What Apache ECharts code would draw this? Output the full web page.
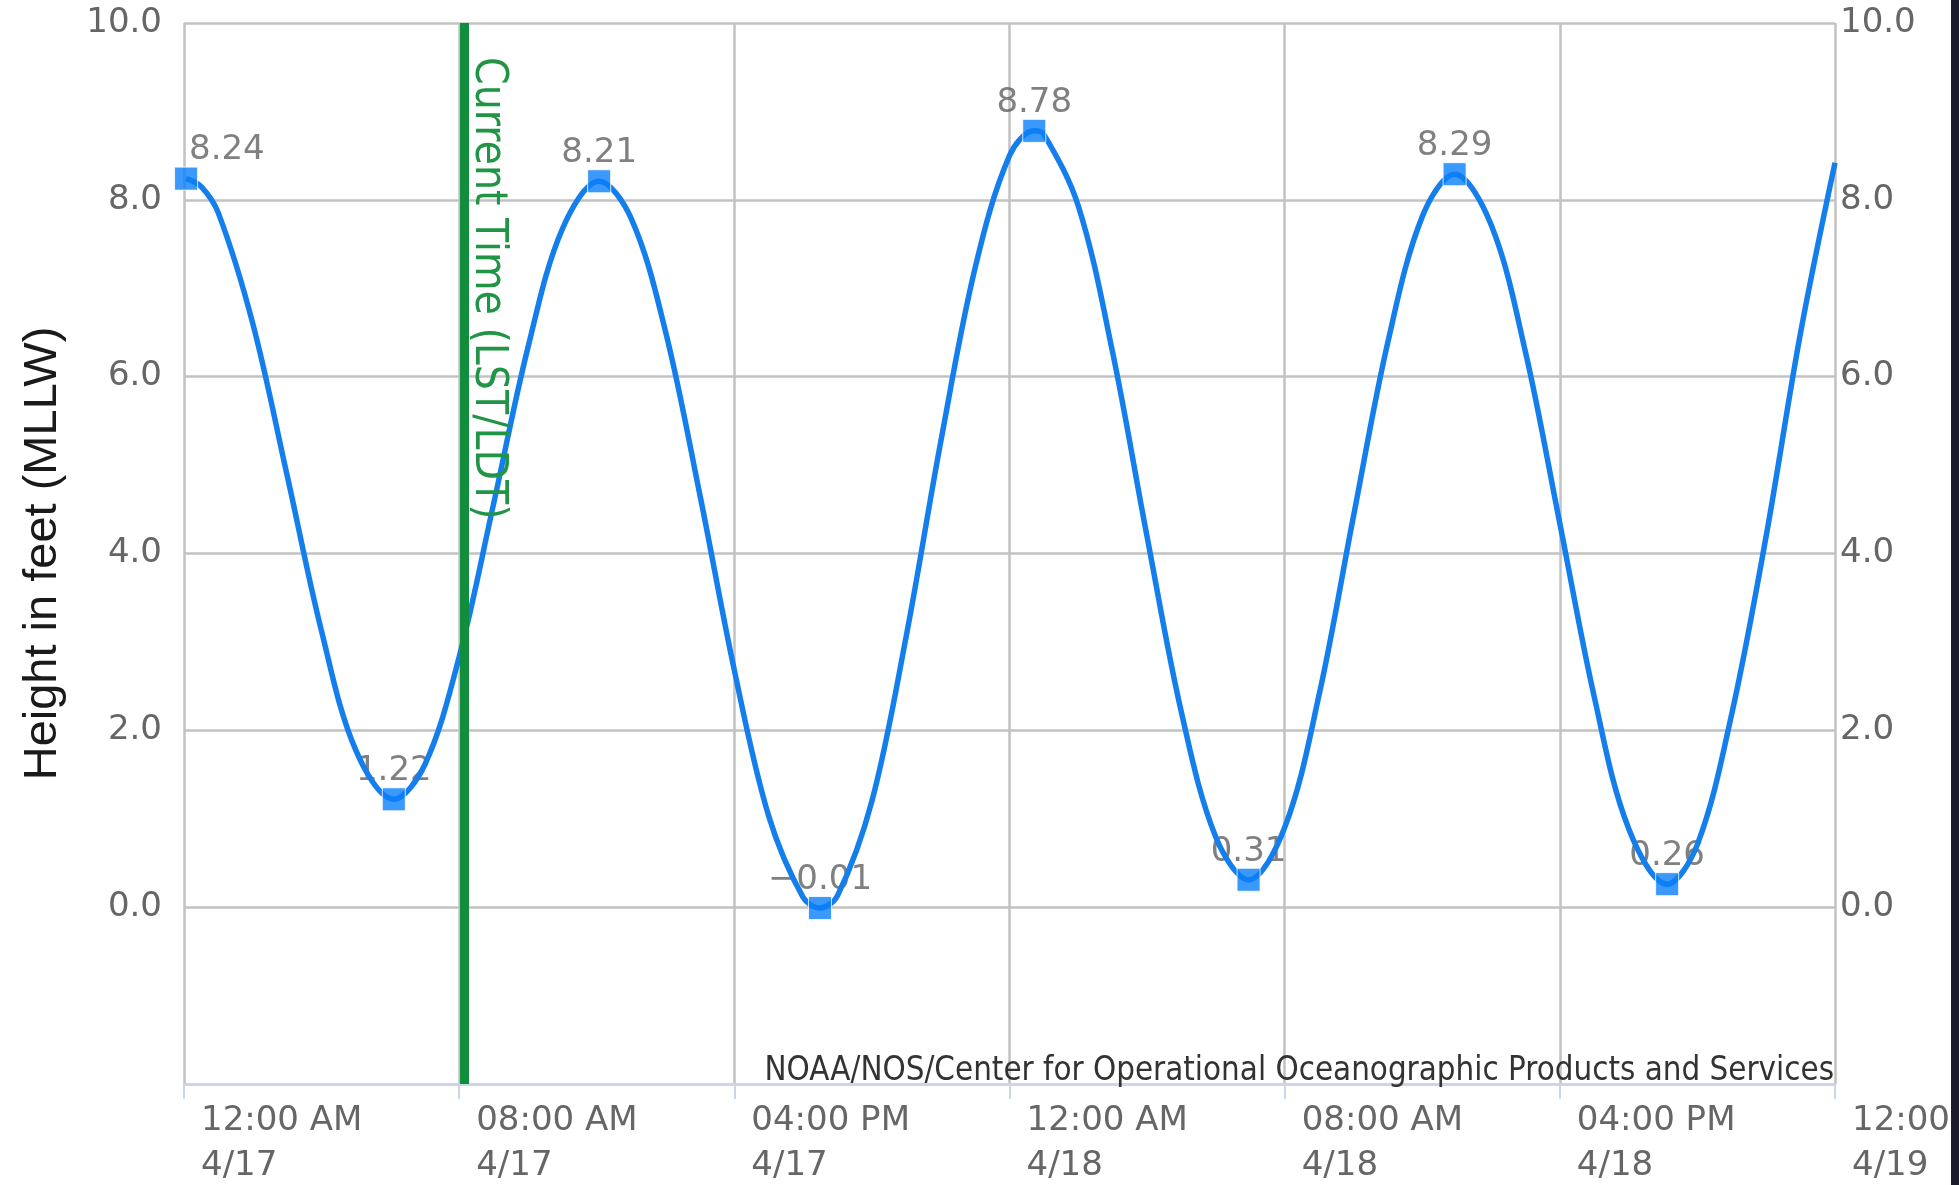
<!DOCTYPE html>
<html>
<head>
<meta charset="utf-8">
<script src="https://cdn.jsdelivr.net/npm/echarts@6/dist/echarts.min.js"></script>
<style>
html,body{margin:0;padding:0;background:#ffffff;}
#chart{width:1959px;height:1185px;}
</style>
</head>
<body>
<div id="chart"></div>
<script>
// Hours since 4/17 12:00 AM, heights in feet (MLLW)
const lineTimes = [0.06, 0.5, 1, 2, 3, 4, 5, 6.10, 7, 8, 9, 10, 11, 12.07, 13, 14, 15, 16, 17, 18, 18.49, 19, 20, 21, 22, 23, 24, 24.72, 25, 26, 27, 28, 29, 30, 30.95, 32, 33, 34, 35, 36, 36.94, 38, 39, 40, 41, 42, 43.12, 44, 45, 46, 47, 48];
const lineHeights = [8.24, 8.15, 7.85, 6.60, 4.88, 3.12, 1.77, 1.22, 1.61, 2.83, 4.56, 6.33, 7.67, 8.21, 7.79, 6.51, 4.66, 2.68, 1.03, 0.11, -0.01, 0.13, 1.20, 3.07, 5.26, 7.23, 8.50, 8.78, 8.74, 7.93, 6.27, 4.19, 2.20, 0.79, 0.31, 0.90, 2.40, 4.42, 6.39, 7.81, 8.29, 7.72, 6.28, 4.34, 2.38, 0.89, 0.26, 0.71, 2.19, 4.20, 6.50, 8.42];

// High / low tide points
const tideTimes = [0.06, 6.10, 12.07, 18.49, 24.72, 30.95, 36.94, 43.12];
const tideHeights = [8.24, 1.22, 8.21, -0.01, 8.78, 0.31, 8.29, 0.26];

const currentTime = 8.16;

const xTickTimes = ['12:00 AM', '08:00 AM', '04:00 PM', '12:00 AM', '08:00 AM', '04:00 PM', '12:00 AM'];
const xTickDates = ['4/17', '4/17', '4/17', '4/18', '4/18', '4/18', '4/19'];

const yAxisTitle = 'Height in feet (MLLW)';
const currentLabel = 'Current Time (LST/LDT)';
const creditsText = 'NOAA/NOS/Center for Operational Oceanographic Products and Services';

const FONT = '"DejaVu Sans", sans-serif';
const FONT_C = '"DejaVu Sans Condensed", "DejaVu Sans", sans-serif';
const GRID_LEFT = 184;

const linePoints = lineTimes.map((t, i) => [t, lineHeights[i]]);
const tidePoints = tideTimes.map((t, i) => [t, tideHeights[i]]);

const chart = echarts.init(document.getElementById('chart'), null, {renderer: 'canvas', width: 1959, height: 1185});

const yLabelFmt = v => (v <= -2 ? '' : v.toFixed(1));
const fmtHeight = v => v.toFixed(2).replace('-', '\u2212');

const option = {
  animation: false,
  backgroundColor: '#ffffff',
  grid: {left: GRID_LEFT, right: 124, top: 23, bottom: 101, containLabel: false, outerBoundsMode: 'none'},
  xAxis: {
    type: 'value', min: 0, max: 48, interval: 8,
    axisLine: {show: true, onZero: false, lineStyle: {color: '#ccd6eb', width: 2.5}},
    axisTick: {show: true, length: 15, lineStyle: {color: '#ccd6eb', width: 2}},
    splitLine: {show: true, lineStyle: {color: '#c2c2c2', width: 2.5}},
    axisLabel: {
      show: true, showMinLabel: true, showMaxLabel: true,
      align: 'left', padding: [0, 0, 0, 17], margin: 15, lineHeight: 45,
      fontSize: 34, fontFamily: FONT, color: '#666666',
      formatter: v => xTickTimes[Math.round(v / 8)] + '\n' + xTickDates[Math.round(v / 8)]
    }
  },
  yAxis: [
    {
      type: 'value', min: -2, max: 10, interval: 2, position: 'left',
      name: yAxisTitle, nameLocation: 'middle', nameRotate: 90, nameGap: 117,
      nameTextStyle: {fontSize: 47, fontFamily: '"Liberation Sans", Arial, sans-serif', color: '#1a1a1a'},
      axisLine: {show: false}, axisTick: {show: false},
      splitLine: {show: true, lineStyle: {color: '#c2c2c2', width: 2.5}},
      axisLabel: {margin: 22, fontSize: 34, fontFamily: FONT, color: '#666666', formatter: yLabelFmt}
    },
    {
      type: 'value', min: -2, max: 10, interval: 2, position: 'right',
      axisLine: {show: false}, axisTick: {show: false}, splitLine: {show: false},
      axisLabel: {margin: 5, fontSize: 34, fontFamily: FONT, color: '#666666', formatter: yLabelFmt}
    }
  ],
  series: [
    {
      name: 'current', type: 'line', data: [], z: 1, silent: true,
      markLine: {
        silent: true, symbol: ['none', 'none'], animation: false,
        lineStyle: {color: '#108e3b', width: 9, type: 'solid'},
        label: {
          show: true, position: 'insideStartTop', distance: [34, 1],
          formatter: currentLabel, color: '#1f9545', fontSize: 44, fontFamily: FONT_C
        },
        emphasis: {disabled: true},
        data: [[{coord: [currentTime, 10]}, {coord: [currentTime, -2]}]]
      }
    },
    {
      name: 'labels', type: 'scatter', data: tidePoints, z: 2, silent: true,
      symbol: 'rect', symbolSize: 22, itemStyle: {color: 'rgba(0,0,0,0)'},
      label: {
        show: true, position: 'top', distance: 0, lineHeight: 34,
        fontSize: 34, fontFamily: FONT, color: '#606060',
        formatter: p => fmtHeight(p.value[1])
      },
      labelLayout: p => {
        const r = p.labelRect;
        if (r.x < GRID_LEFT + 5) return {dx: GRID_LEFT + 5 - r.x};
        return {};
      }
    },
    {
      name: 'tide', type: 'line', data: linePoints, z: 3, silent: true,
      smooth: 0.35, showSymbol: false, symbol: 'none',
      lineStyle: {color: '#147eec', width: 5.5}
    },
    {
      name: 'markers', type: 'scatter', data: tidePoints, z: 4, silent: true,
      symbol: 'rect', symbolSize: 23,
      itemStyle: {color: '#0a7ffa', borderColor: '#ffffff', borderWidth: 1}
    }
  ],
  graphic: [
    {
      type: 'text', x: 1834, y: 1088, z: 50, silent: true,
      style: {text: creditsText, font: '32.8px "DejaVu Sans Condensed", "DejaVu Sans", sans-serif', fill: '#333333', align: 'right', verticalAlign: 'bottom'}
    },
    {
      type: 'rect', z: 100, silent: true,
      shape: {x: 1951, y: 0, width: 8, height: 1185},
      style: {fill: '#1c1b2b'}
    }
  ]
};
chart.setOption(option);
</script>
</body>
</html>
